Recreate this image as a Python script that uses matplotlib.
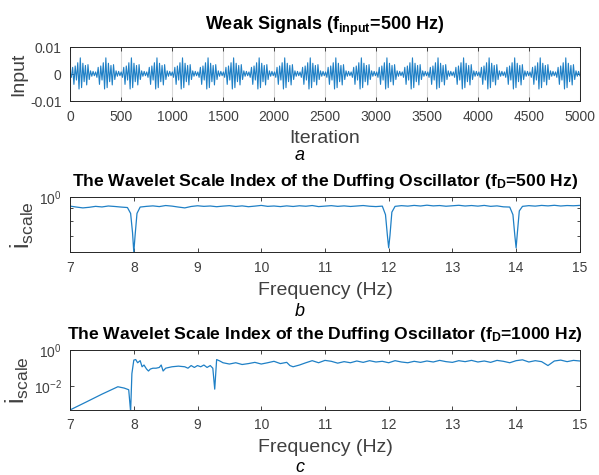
import numpy as np
import matplotlib.pyplot as plt
from matplotlib.ticker import LogLocator, NullFormatter, FixedLocator

plt.rcParams['font.family'] = 'Liberation Sans'
plt.rcParams['mathtext.fontset'] = 'custom'
plt.rcParams['mathtext.rm'] = 'Liberation Sans'
plt.rcParams['mathtext.it'] = 'Liberation Sans:italic'
plt.rcParams['mathtext.bf'] = 'Liberation Sans:bold'

# ============================================================================
#                                   Data
# ============================================================================
# (a) one 250-iteration block of the weak input: half-cycle extremes
blk_ext = [0.0008, -0.0012, 0.0025, -0.0038, 0.0030, -0.0022, 0.0042, -0.0055,
           0.0060, -0.0050, 0.0040, -0.0028, 0.0032, -0.0040, 0.0035, -0.0020,
           0.0012, -0.0008, 0.0010, -0.0006]
n_blk = 20
it_max = 5000

# (b) wavelet scale index, f_D = 500 Hz
freq_b = [7.0, 7.1, 7.2, 7.3, 7.4, 7.5, 7.6, 7.7, 7.8, 7.9, 7.95, 7.98, 8.0, 8.02, 8.05,
          8.1, 8.2, 8.3, 8.4, 8.5, 8.6, 8.7, 8.8, 8.9, 9.0, 9.1, 9.2, 9.3, 9.4, 9.5,
          9.6, 9.7, 9.8, 9.9, 10.0, 10.1, 10.2, 10.3, 10.4, 10.5, 10.6, 10.7, 10.8,
          10.9, 11.0, 11.1, 11.2, 11.3, 11.4, 11.5, 11.6, 11.7, 11.8, 11.9, 11.95,
          11.98, 12.0, 12.02, 12.05, 12.1, 12.2, 12.3, 12.4, 12.5, 12.6, 12.7, 12.8,
          12.9, 13.0, 13.1, 13.2, 13.3, 13.4, 13.5, 13.6, 13.7, 13.8, 13.9, 13.95,
          13.98, 14.0, 14.02, 14.05, 14.1, 14.2, 14.3, 14.4, 14.5, 14.6, 14.7, 14.8,
          14.9, 15.0]
isc_b = [0.920, 0.912, 0.905, 0.910, 0.918, 0.913, 0.921, 0.917, 0.912, 0.908, 0.86, 0.72,
         0.60, 0.70, 0.86, 0.912, 0.918, 0.922, 0.916, 0.925, 0.920, 0.912, 0.905, 0.917,
         0.923, 0.918, 0.921, 0.915, 0.920, 0.924, 0.917, 0.922, 0.915, 0.920, 0.926,
         0.918, 0.921, 0.916, 0.922, 0.917, 0.923, 0.919, 0.925, 0.916, 0.920, 0.924,
         0.918, 0.922, 0.917, 0.921, 0.925, 0.919, 0.916, 0.920, 0.85, 0.70, 0.625,
         0.70, 0.87, 0.918, 0.924, 0.920, 0.926, 0.921, 0.928, 0.922, 0.925, 0.919,
         0.923, 0.927, 0.921, 0.925, 0.920, 0.926, 0.918, 0.922, 0.914, 0.912, 0.85,
         0.70, 0.625, 0.72, 0.88, 0.918, 0.924, 0.920, 0.926, 0.922, 0.927, 0.921,
         0.925, 0.923, 0.926]

# (c) wavelet scale index, f_D = 1000 Hz
freq_c = [7.0, 7.25, 7.5, 7.75, 7.85, 7.92, 7.95, 7.97, 8.0, 8.03, 8.06, 8.1, 8.13,
          8.16, 8.2, 8.23, 8.26, 8.3, 8.35, 8.4, 8.43, 8.46, 8.5, 8.55, 8.6, 8.7, 8.8,
          8.85, 8.9, 8.95, 9.0, 9.05, 9.1, 9.15, 9.2, 9.24, 9.27, 9.3, 9.35, 9.4, 9.5,
          9.6, 9.7, 9.8, 9.9, 10.0, 10.1, 10.2, 10.3, 10.4, 10.45, 10.5, 10.6, 10.7,
          10.8, 10.9, 11.0, 11.1, 11.2, 11.3, 11.4, 11.5, 11.6, 11.7, 11.8, 11.9, 12.0,
          12.1, 12.2, 12.3, 12.4, 12.5, 12.6, 12.7, 12.8, 12.9, 13.0, 13.1, 13.2, 13.3,
          13.4, 13.5, 13.6, 13.7, 13.8, 13.9, 14.0, 14.1, 14.2, 14.3, 14.4, 14.5, 14.6,
          14.7, 14.8, 14.9, 15.0]
isc_c = [5e-4, 1.35e-3, 3.7e-3, 9.5e-3, 8e-3, 6.5e-3, 4e-4, 0.05, 0.28, 0.30, 0.20,
         0.26, 0.12, 0.15, 0.09, 0.07, 0.09, 0.10, 0.10, 0.11, 0.15, 0.07, 0.10, 0.11,
         0.12, 0.13, 0.12, 0.10, 0.14, 0.11, 0.14, 0.12, 0.15, 0.11, 0.14, 0.10, 0.007,
         0.30, 0.25, 0.20, 0.17, 0.20, 0.16, 0.18, 0.21, 0.17, 0.20, 0.24, 0.18, 0.21,
         0.14, 0.12, 0.15, 0.20, 0.26, 0.20, 0.27, 0.24, 0.19, 0.23, 0.20, 0.25, 0.21,
         0.26, 0.22, 0.24, 0.20, 0.26, 0.22, 0.20, 0.24, 0.21, 0.25, 0.22, 0.27, 0.23,
         0.21, 0.26, 0.23, 0.27, 0.22, 0.25, 0.21, 0.27, 0.24, 0.20, 0.26, 0.29, 0.22,
         0.26, 0.23, 0.14, 0.25, 0.28, 0.23, 0.27, 0.25]

# ============================================================================
#                                   Plotting
# ============================================================================
blue = '#1f80c6'
txt = '#262626'
fig = plt.figure(figsize=(5.99, 4.75), dpi=100)

ax_a = fig.add_axes([0.117, 0.787, 0.851, 0.114])
ax_b = fig.add_axes([0.117, 0.469, 0.851, 0.116])
ax_c = fig.add_axes([0.117, 0.137, 0.851, 0.126])

sig = np.tile(blk_ext, n_blk)
it = np.linspace(0, it_max, sig.size)
ax_a.plot(it, sig, color=blue, lw=0.8)
ax_a.set_xlim(0, it_max)
ax_a.set_ylim(-0.01, 0.01)
ax_a.set_xticks(np.arange(0, 5001, 500))
ax_a.set_yticks([-0.01, 0, 0.01])
ax_a.set_yticklabels(['-0.01', '0', '0.01'])
ax_a.grid(axis='x', color='#d8d8d8', lw=0.8)
ax_a.set_title(r'Weak Signals (f$_{\mathbf{input}}$=500 Hz)', fontsize=13, fontweight='bold', pad=12)
ax_a.set_xlabel('Iteration', fontsize=14, labelpad=5, color='#404040')
ax_a.set_ylabel('Input', fontsize=14, labelpad=2, color='#404040')

ax_b.plot(freq_b, isc_b, color=blue, lw=0.9)
ax_b.set_yscale('log')
ax_b.set_ylim(0.6, 1.0)
ax_b.set_title(r'The Wavelet Scale Index of the Duffing Oscillator (f$_{\mathbf{D}}$=500 Hz)',
               fontsize=12.6, fontweight='bold', pad=8)

ax_c.plot(freq_c, isc_c, color=blue, lw=0.9)
ax_c.set_yscale('log')
ax_c.set_ylim(5e-4, 1.0)
ax_c.set_title(r'The Wavelet Scale Index of the Duffing Oscillator (f$_{\mathbf{D}}$=1000 Hz)',
               fontsize=12.6, fontweight='bold', pad=8)

for ax in (ax_b, ax_c):
    ax.set_xlim(7, 15)
    ax.set_xticks(range(7, 16))
    ax.set_xlabel('Frequency (Hz)', fontsize=14, labelpad=5, color='#404040')
    ax.set_ylabel(r'i$_{\mathrm{scale}}$', fontsize=18, labelpad=2, color='#404040')
    ax.yaxis.set_minor_locator(LogLocator(base=10, subs=np.arange(2, 10)))
    ax.yaxis.set_minor_formatter(NullFormatter())
ax_b.yaxis.set_major_locator(FixedLocator([1.0]))
ax_c.yaxis.set_major_locator(FixedLocator([1e-2, 1.0]))

for ax in (ax_a, ax_b, ax_c):
    ax.tick_params(direction='in', top=True, right=True, labelsize=10, colors=txt,
                   labelcolor='#404040', length=3, width=0.6, pad=6)
    ax.tick_params(which='minor', direction='in', right=True, length=2, width=0.5)
    for s in ax.spines.values():
        s.set_color(txt)
        s.set_linewidth(0.7)

fig.text(0.5, 0.673, 'a', ha='center', va='center', fontsize=13, style='italic')
fig.text(0.5, 0.345, 'b', ha='center', va='center', fontsize=13, style='italic')
fig.text(0.5, 0.015, 'c', ha='center', va='center', fontsize=13, style='italic')

plt.savefig('out.png', dpi=100)
